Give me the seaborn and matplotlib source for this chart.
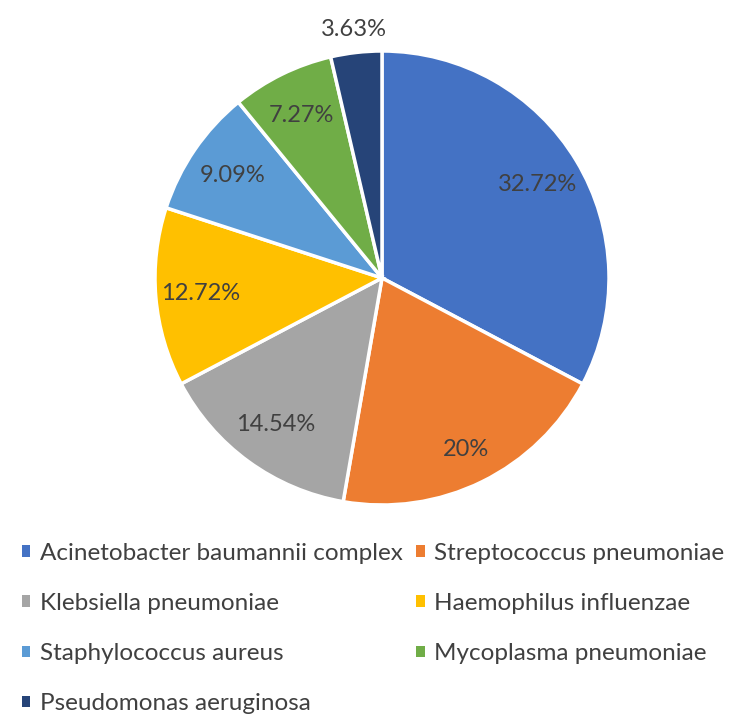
import numpy as np
import matplotlib
matplotlib.use("Agg")
import matplotlib.pyplot as plt
import seaborn as sns
from matplotlib.patches import Patch

sns.set_theme(style="white")
plt.rcParams["font.family"] = ["Lato", "DejaVu Sans"]

# Data
organisms = [
    "Acinetobacter baumannii complex",
    "Streptococcus pneumoniae",
    "Klebsiella pneumoniae",
    "Haemophilus influenzae",
    "Staphylococcus aureus",
    "Mycoplasma pneumoniae",
    "Pseudomonas aeruginosa",
]
shares = [32.72, 20, 14.54, 12.72, 9.09, 7.27, 3.63]
pct_labels = ["32.72%", "20%", "14.54%", "12.72%", "9.09%", "7.27%", "3.63%"]
colors = ["#4472C4", "#ED7D31", "#A5A5A5", "#FFC000", "#5B9BD5", "#70AD47", "#264478"]

text_color = "#404040"

fig = plt.figure(figsize=(7.5, 7.26), dpi=100)
W, H = 750, 726
cx, cy, r = 382, 278, 227
ax = fig.add_axes([(cx - r) / W, (H - cy - r) / H, 2 * r / W, 2 * r / H])

wedges, _ = ax.pie(shares, colors=colors, startangle=90, counterclock=False,
                   wedgeprops=dict(edgecolor="white", linewidth=2.5))
ax.set_xlim(-1, 1)
ax.set_ylim(-1, 1)
ax.set_aspect("equal")
ax.axis("off")

# percentage labels
for i, w in enumerate(wedges):
    mid = np.deg2rad((w.theta1 + w.theta2) / 2)
    d = 0.8 if i < len(wedges) - 1 else 1.1
    if i == 1:
        d = 0.84
    ax.text(d * np.cos(mid), d * np.sin(mid), pct_labels[i],
            ha="center", va="center", fontsize=17, color=text_color)

# legend in row order: col1 = 0,2,4,6 ; col2 = 1,3,5
order = [0, 2, 4, 6, 1, 3, 5]
handles = [Patch(facecolor=colors[i], edgecolor="none") for i in order]
labels = [organisms[i] for i in order]
fig.legend(handles, labels, loc="upper left", bbox_to_anchor=(12 / W, 1 - 533 / H),
           ncol=2, frameon=False, fontsize=17.5, labelcolor=text_color,
           handlelength=0.35, handleheight=0.35, handletextpad=0.4,
           columnspacing=0.55, labelspacing=1.2, borderaxespad=0)

fig.savefig("out.png", dpi=100)
